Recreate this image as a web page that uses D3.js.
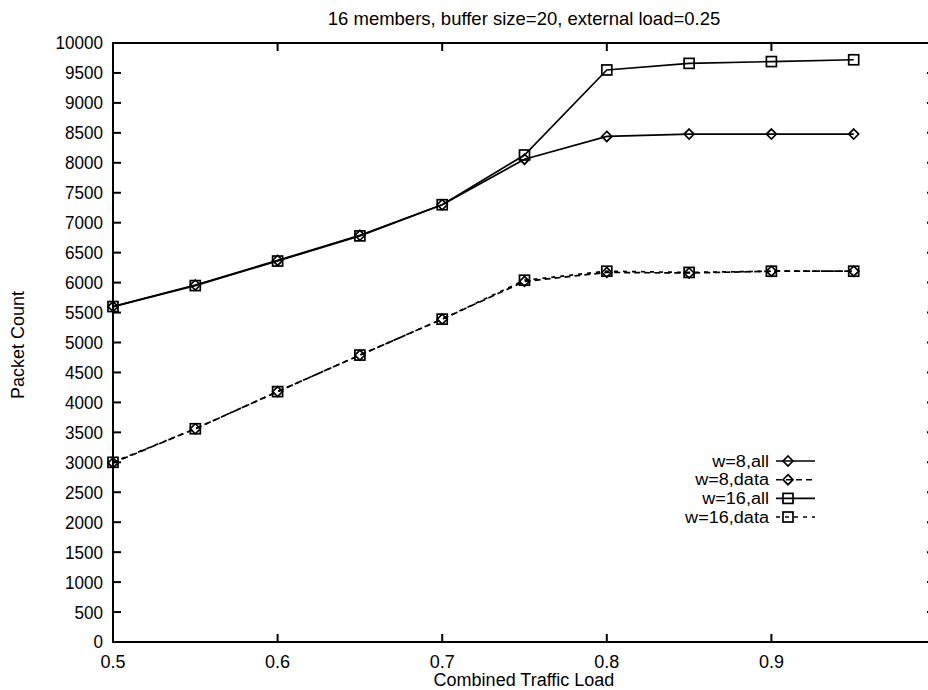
<!DOCTYPE html>
<html><head><meta charset="utf-8">
<script src="https://cdn.jsdelivr.net/npm/d3@7"></script>
<style>body{margin:0;background:#fff}svg{display:block}text{font-family:"Liberation Sans",Arial,sans-serif;fill:#000}</style>
</head><body>
<script>
const loads = [0.5,0.55,0.6,0.65,0.7,0.75,0.8,0.85,0.9,0.95];
const w8All   = [5600,5960,6370,6790,7300,8060,8440,8480,8480,8480];
const w8Data  = [2990,3560,4180,4790,5390,6020,6170,6160,6190,6190];
const w16All  = [5600,5950,6360,6780,7300,8130,9550,9660,9690,9720];
const w16Data = [3000,3560,4180,4790,5390,6040,6190,6170,6190,6190];
const xTicks = [0.5,0.6,0.7,0.8,0.9];
const yTicks = d3.range(0,10001,500);
const seriesNames = ["w=8,all","w=8,data","w=16,all","w=16,data"];
const title = "16 members, buffer size=20, external load=0.25";

const W=928,H=690;
const svg=d3.select("body").append("svg").attr("width",W).attr("height",H);
const x=d3.scaleLinear().domain([0.5,1.0]).range([113,936]);
const y=d3.scaleLinear().domain([0,10000]).range([642,43]);

svg.append("rect").attr("x",x(0.5)).attr("y",y(10000)).attr("width",x(1.0)-x(0.5)).attr("height",y(0)-y(10000))
  .attr("fill","none").attr("stroke","#000").attr("stroke-width",2);

function addText(px,py,str,anchor,size,rot,sx){
  const g=svg.append("g").attr("transform",`translate(${px},${py})${rot?` rotate(${rot})`:""} scale(${sx||1},1)`);
  g.append("text").attr("dy","0.36em").attr("text-anchor",anchor).attr("font-size",size).text(str);
}
const fs=18;
yTicks.forEach(v=>{
  svg.append("line").attr("x1",x(0.5)).attr("x2",x(0.5)+8).attr("y1",y(v)).attr("y2",y(v)).attr("stroke","#000").attr("stroke-width",2);
  svg.append("line").attr("x1",x(1.0)).attr("x2",x(1.0)-9).attr("y1",y(v)).attr("y2",y(v)).attr("stroke","#000").attr("stroke-width",2);
  addText(x(0.5)-10,y(v),String(v),"end",fs,0,0.95);
});
xTicks.forEach(v=>{
  if(v>0.5){
    svg.append("line").attr("x1",x(v)).attr("x2",x(v)).attr("y1",y(0)).attr("y2",y(0)-8).attr("stroke","#000").attr("stroke-width",2);
    svg.append("line").attr("x1",x(v)).attr("x2",x(v)).attr("y1",y(10000)).attr("y2",y(10000)+8).attr("stroke","#000").attr("stroke-width",2);
  }
  addText(x(v),662,v.toFixed(1),"middle",fs);
});

addText(524,680,"Combined Traffic Load","middle",fs);
addText(18,345,"Packet Count","middle",fs,-90);
addText(524,18,title,"middle",18.5);

const series=[
  {name:seriesNames[0],vals:w8All,dash:null,marker:"diamond"},
  {name:seriesNames[1],vals:w8Data,dash:"6,4",marker:"diamond"},
  {name:seriesNames[2],vals:w16All,dash:null,marker:"square"},
  {name:seriesNames[3],vals:w16Data,dash:"4,5",marker:"square"}
];
const line=d3.line().x((d,i)=>x(loads[i])).y(d=>y(d));
function marker(g,cx,cy,type){
  if(type==="square"){
    g.append("rect").attr("x",cx-5).attr("y",cy-5).attr("width",10).attr("height",10).attr("fill","none").attr("stroke","#000").attr("stroke-width",1.7);
  } else {
    g.append("path").attr("d",`M${cx},${cy-5}L${cx+5},${cy}L${cx},${cy+5}L${cx-5},${cy}Z`).attr("fill","none").attr("stroke","#000").attr("stroke-width",1.7);
  }
}
series.forEach(s=>{
  const g=svg.append("g");
  g.append("path").datum(s.vals).attr("d",line).attr("fill","none").attr("stroke","#000").attr("stroke-width",1.7).attr("stroke-dasharray",s.dash);
  s.vals.forEach((v,i)=>marker(g,x(loads[i]),y(v),s.marker));
});

const legY=[461,479.7,498.4,517];
series.forEach((s,i)=>{
  const g=svg.append("g");
  addText(769,legY[i],s.name,"end",16,0,1.13);
  g.append("line").attr("x1",776).attr("x2",815).attr("y1",legY[i]).attr("y2",legY[i]).attr("stroke","#000").attr("stroke-width",1.6).attr("stroke-dasharray",s.dash);
  marker(g,788,legY[i],s.marker);
});
</script>
</body></html>
